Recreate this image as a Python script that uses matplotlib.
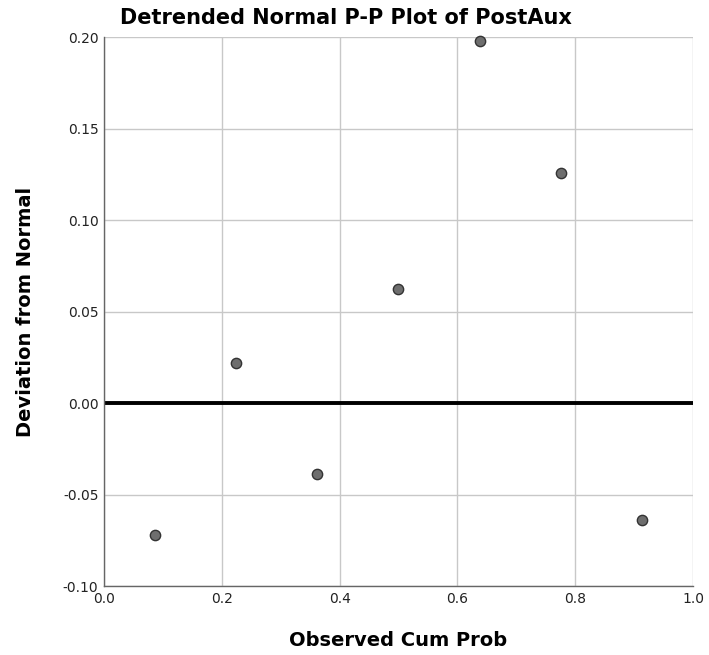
import matplotlib.pyplot as plt

# detrended P-P values
cum_prob = [0.086, 0.224, 0.362, 0.500, 0.638, 0.776, 0.914]
deviation = [-0.0721, 0.0220, -0.0388, 0.0623, 0.1979, 0.1257, -0.0640]

x_ticks = [0.0, 0.2, 0.4, 0.6, 0.8, 1.0]
y_ticks = [-0.10, -0.05, 0.00, 0.05, 0.10, 0.15, 0.20]

fig = plt.figure(figsize=(7.09, 6.55), dpi=100)
ax = fig.add_axes([0.1467, 0.1053, 0.8307, 0.8382])

ax.set_xlim(0, 1)
ax.set_ylim(-0.10, 0.20)
ax.set_xticks(x_ticks)
ax.set_xticklabels(['%.1f' % t for t in x_ticks])
ax.set_yticks(y_ticks)
ax.set_yticklabels(['%.2f' % t for t in y_ticks])
ax.tick_params(length=0, labelsize=10, colors='#222222', pad=4)

ax.grid(True, color='#c8c8c8', linewidth=1.0)
ax.set_axisbelow(True)
for side in ['top', 'right']:
    ax.spines[side].set_visible(False)
for side in ['left', 'bottom']:
    ax.spines[side].set_color('#666666')
    ax.spines[side].set_linewidth(1.0)

ax.axhline(0, color='black', linewidth=2.8, zorder=2)
ax.scatter(cum_prob, deviation, s=55, c='#6e6e6e', edgecolors='#333333',
           linewidths=1.0, zorder=3, clip_on=False)

fig.text(0.488, 0.972, 'Detrended Normal P-P Plot of PostAux',
         ha='center', va='center', fontsize=15, fontweight='bold')
ax.set_xlabel('Observed Cum Prob', fontsize=14, fontweight='bold', labelpad=18)
ax.set_ylabel('Deviation from Normal', fontsize=14, fontweight='bold', labelpad=20)

fig.savefig('out.png', dpi=100)
